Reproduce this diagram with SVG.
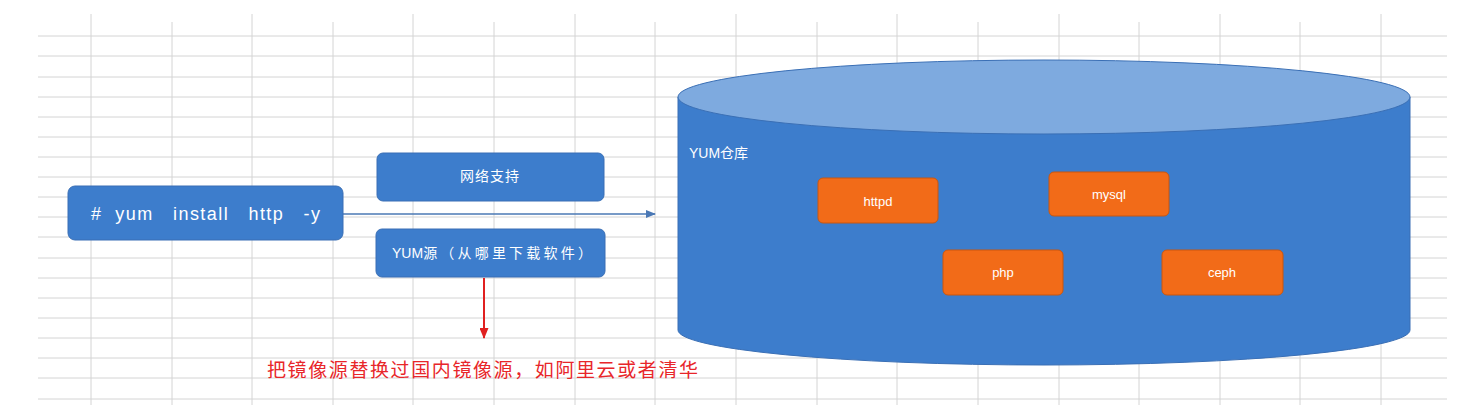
<svg xmlns="http://www.w3.org/2000/svg" width="1478" height="420" viewBox="0 0 1478 420">
<style>
.grid line{stroke:#d4d4d4;stroke-width:1}
.blue{fill:#3d7dcc;stroke:#3a6fb5;stroke-width:1}
.orange{fill:#f26b18;stroke:#c9570f;stroke-width:1}
.wt{fill:#ffffff;font-family:"Liberation Sans","Noto Sans CJK SC",sans-serif}
.ct{text-anchor:middle}
</style>
<defs>
<marker id="ab" markerWidth="10" markerHeight="8" refX="9" refY="4" orient="auto" markerUnits="userSpaceOnUse">
<path d="M0,0 L10,4 L0,8 Z" fill="#4a78b5"/>
</marker>
<marker id="ar" markerWidth="11" markerHeight="9" refX="10" refY="4.5" orient="auto" markerUnits="userSpaceOnUse">
<path d="M0,0 L11,4.5 L0,9 Z" fill="#e02020"/>
</marker>
</defs>
<rect width="1478" height="420" fill="#ffffff"/>
<g class="grid" id="grid">
<line x1="38" y1="36" x2="1447" y2="36"/><line x1="38" y1="56" x2="1447" y2="56"/><line x1="38" y1="77" x2="1447" y2="77"/><line x1="38" y1="97" x2="1447" y2="97"/><line x1="38" y1="117" x2="1447" y2="117"/><line x1="38" y1="137" x2="1447" y2="137"/><line x1="38" y1="157" x2="1447" y2="157"/><line x1="38" y1="177" x2="1447" y2="177"/><line x1="38" y1="197" x2="1447" y2="197"/><line x1="38" y1="217" x2="1447" y2="217"/><line x1="38" y1="237" x2="1447" y2="237"/><line x1="38" y1="258" x2="1447" y2="258"/><line x1="38" y1="278" x2="1447" y2="278"/><line x1="38" y1="298" x2="1447" y2="298"/><line x1="38" y1="318" x2="1447" y2="318"/><line x1="38" y1="338" x2="1447" y2="338"/><line x1="38" y1="358" x2="1447" y2="358"/><line x1="38" y1="378" x2="1447" y2="378"/><line x1="38" y1="399" x2="1447" y2="399"/>
<line x1="91" y1="14" x2="91" y2="405"/><line x1="172" y1="22" x2="172" y2="405"/><line x1="252" y1="14" x2="252" y2="405"/><line x1="333" y1="22" x2="333" y2="405"/><line x1="413" y1="14" x2="413" y2="405"/><line x1="494" y1="22" x2="494" y2="405"/><line x1="575" y1="14" x2="575" y2="405"/><line x1="655" y1="22" x2="655" y2="405"/><line x1="736" y1="14" x2="736" y2="405"/><line x1="817" y1="22" x2="817" y2="405"/><line x1="897" y1="14" x2="897" y2="405"/><line x1="978" y1="22" x2="978" y2="405"/><line x1="1059" y1="14" x2="1059" y2="405"/><line x1="1139" y1="22" x2="1139" y2="405"/><line x1="1220" y1="14" x2="1220" y2="405"/><line x1="1300" y1="22" x2="1300" y2="405"/><line x1="1381" y1="14" x2="1381" y2="405"/>
</g>
<g id="connectors">
<line x1="343" y1="214" x2="655" y2="214" stroke="#4a78b5" stroke-width="1.5" marker-end="url(#ab)"/>
<line x1="484" y1="278" x2="484" y2="338" stroke="#e02020" stroke-width="2" marker-end="url(#ar)"/>
</g>
<g id="cmd">
<rect class="blue" x="68" y="186" width="275" height="54" rx="7"/>
<text class="wt" x="91" y="220" font-size="18" textLength="229" lengthAdjust="spacing" xml:space="preserve">#  yum   install   http   -y</text>
</g>
<g id="net">
<rect class="blue" x="377" y="153" width="227" height="48" rx="6"/>
<text class="wt ct" x="490" y="181" font-size="14" letter-spacing="1">网络支持</text>
</g>
<g id="yumsrc">
<rect class="blue" x="376" y="229" width="229" height="48" rx="6"/>
<text class="wt" x="392" y="258" font-size="14">YUM<tspan letter-spacing="3.2">源（从哪里下载软件）</tspan></text>
</g>
<g id="note">
<text x="267" y="377" font-size="19" fill="#e8262a" font-family="'Noto Sans CJK SC',sans-serif" textLength="431" lengthAdjust="spacing">把镜像源替换过国内镜像源，如阿里云或者清华</text>
</g>
<g id="repo">
<path d="M678,97 L678,330 A366,35 0 0 0 1410,330 L1410,97 Z" fill="#3d7dcc" stroke="#3a6fb5" stroke-width="1"/>
<ellipse cx="1044" cy="97" rx="366" ry="37" fill="#7eaadf" stroke="#3a6fb5" stroke-width="1"/>
<text class="wt" x="689" y="158" font-size="14">YUM仓库</text>
</g>
<g id="httpd">
<rect class="orange" x="818" y="178" width="120" height="45" rx="5"/>
<text class="wt ct" x="878" y="206" font-size="13">httpd</text>
</g>
<g id="mysql">
<rect class="orange" x="1049" y="172" width="120" height="44" rx="5"/>
<text class="wt ct" x="1109" y="199" font-size="13">mysql</text>
</g>
<g id="php">
<rect class="orange" x="943" y="250" width="120" height="45" rx="5"/>
<text class="wt ct" x="1003" y="277" font-size="13">php</text>
</g>
<g id="ceph">
<rect class="orange" x="1162" y="250" width="121" height="45" rx="5"/>
<text class="wt ct" x="1222" y="277" font-size="13">ceph</text>
</g>
</svg>
